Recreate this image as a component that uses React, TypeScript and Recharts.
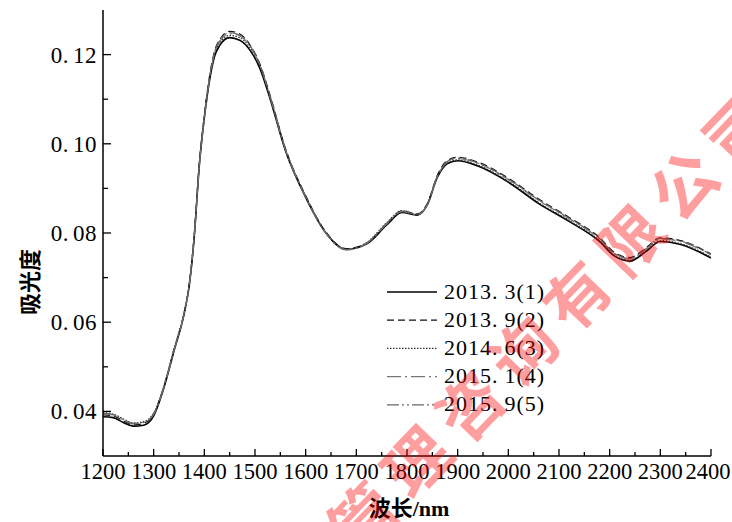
import React from 'react';
import { LineChart, Line, XAxis, YAxis } from 'recharts';

// Wavelength (nm)
const WAVELENGTHS = [
  1200, 1220, 1240, 1260, 1280, 1300, 1320, 1340, 1360, 1370, 1380, 1390, 1400, 1410, 1420,
  1430, 1450, 1470, 1490, 1510, 1530, 1560, 1600, 1640, 1680, 1720, 1760, 1790, 1820, 1840,
  1860, 1880, 1900, 1940, 2000, 2060, 2120, 2180, 2210, 2240, 2270, 2300, 2340, 2400,
];

// Absorbance, series 1..5
const S1 = [
  0.0388, 0.0386, 0.0375, 0.0367, 0.0369, 0.0390, 0.0452, 0.0535, 0.0618, 0.0680, 0.0790, 0.0950, 0.1058, 0.1140, 0.1195,
  0.1220, 0.1238, 0.1232, 0.1210, 0.1168, 0.1100, 0.0985, 0.0880, 0.0800, 0.0763, 0.0775, 0.0818, 0.0846, 0.0840, 0.0863,
  0.0925, 0.0956, 0.0962, 0.0950, 0.0914, 0.0866, 0.0826, 0.0781, 0.0748, 0.0737, 0.0757, 0.0781, 0.0774, 0.0744,
];
const S2 = [
  0.0392, 0.0390, 0.0379, 0.0370, 0.0373, 0.0394, 0.0455, 0.0538, 0.0620, 0.0683, 0.0795, 0.0955, 0.1065, 0.1150, 0.1207,
  0.1233, 0.1252, 0.1246, 0.1222, 0.1178, 0.1108, 0.0990, 0.0884, 0.0802, 0.0765, 0.0777, 0.0821, 0.0850, 0.0843, 0.0866,
  0.0930, 0.0963, 0.0970, 0.0959, 0.0923, 0.0876, 0.0835, 0.0790, 0.0756, 0.0745, 0.0765, 0.0789, 0.0783, 0.0753,
];
const S3 = [
  0.0397, 0.0394, 0.0383, 0.0374, 0.0377, 0.0396, 0.0457, 0.0540, 0.0622, 0.0684, 0.0793, 0.0952, 0.1060, 0.1143, 0.1199,
  0.1225, 0.1243, 0.1238, 0.1216, 0.1173, 0.1105, 0.0988, 0.0882, 0.0801, 0.0764, 0.0778, 0.0823, 0.0850, 0.0842, 0.0864,
  0.0926, 0.0957, 0.0964, 0.0952, 0.0916, 0.0868, 0.0828, 0.0783, 0.0750, 0.0739, 0.0759, 0.0783, 0.0776, 0.0746,
];
const S4 = [
  0.0394, 0.0392, 0.0381, 0.0372, 0.0375, 0.0393, 0.0453, 0.0536, 0.0619, 0.0681, 0.0790, 0.0949, 0.1058, 0.1144, 0.1202,
  0.1229, 0.1247, 0.1242, 0.1219, 0.1175, 0.1104, 0.0987, 0.0881, 0.0799, 0.0762, 0.0776, 0.0820, 0.0848, 0.0841, 0.0863,
  0.0927, 0.0960, 0.0967, 0.0956, 0.0920, 0.0873, 0.0832, 0.0787, 0.0753, 0.0742, 0.0762, 0.0787, 0.0781, 0.0751,
];
const S5 = [
  0.0396, 0.0393, 0.0382, 0.0373, 0.0376, 0.0395, 0.0455, 0.0537, 0.0620, 0.0682, 0.0792, 0.0951, 0.1061, 0.1147, 0.1204,
  0.1231, 0.1249, 0.1244, 0.1221, 0.1177, 0.1106, 0.0989, 0.0883, 0.0800, 0.0763, 0.0777, 0.0822, 0.0849, 0.0842, 0.0864,
  0.0928, 0.0961, 0.0968, 0.0957, 0.0921, 0.0874, 0.0833, 0.0788, 0.0754, 0.0743, 0.0763, 0.0788, 0.0782, 0.0752,
];

const SERIES_NAMES = ['2013.3(1)', '2013.9(2)', '2014.6(3)', '2015.1(4)', '2015.9(5)'];

const X_TICKS = [
  1200, 1250, 1300, 1350, 1400, 1450, 1500, 1550, 1600, 1650, 1700, 1750, 1800, 1850, 1900, 1950,
  2000, 2050, 2100, 2150, 2200, 2250, 2300, 2350, 2400,
];
const Y_TICKS = [0.04, 0.05, 0.06, 0.07, 0.08, 0.09, 0.1, 0.11, 0.12];

const X_TITLE = '波长/nm';
const Y_TITLE = '吸光度';
const WATERMARK = '管理咨询有限公司';

const SERIES = [
  { key: 's1', values: S1, stroke: '#000000', width: 1.6, dash: undefined as string | undefined },
  { key: 's2', values: S2, stroke: '#111111', width: 1.2, dash: '7 4' },
  { key: 's3', values: S3, stroke: '#333333', width: 1.3, dash: '1.5 1.5' },
  { key: 's4', values: S4, stroke: '#777777', width: 1.2, dash: '14 4 2 4' },
  { key: 's5', values: S5, stroke: '#666666', width: 1.2, dash: '12 3 2 3 2 3' },
];

const data = WAVELENGTHS.map((wl, i) => {
  const row: Record<string, number> = { wl };
  SERIES.forEach((s) => {
    row[s.key] = s.values[i];
  });
  return row;
});

const SERIF = "'Liberation Serif', 'Times New Roman', serif";

const XTick = (props: any) => {
  const { x, y, payload } = props;
  const v = payload.value as number;
  const major = v % 100 === 0;
  const tx = Math.min(x, 708);
  return (
    <g>
      <line x1={x} x2={x} y1={y} y2={y - (major ? 7 : 4)} stroke="#000" strokeWidth={1.3} />
      {major && (
        <text x={tx} y={y + 23} textAnchor="middle" fontFamily={SERIF} fontSize={22.5} fill="#000">
          {v}
        </text>
      )}
    </g>
  );
};

const YTick = (props: any) => {
  const { x, y, payload } = props;
  const v = payload.value as number;
  const major = Math.round(v * 100) % 2 === 0;
  const [a, b] = v.toFixed(2).split('.');
  return (
    <g>
      <line x1={x} x2={x + (major ? 8 : 5)} y1={y} y2={y} stroke="#000" strokeWidth={1.3} />
      {major && (
        <text x={x - 6} y={y + 8} textAnchor="end" fontFamily={SERIF} fontSize={23} fill="#000" letterSpacing={0.5}>
          <tspan>{a}.</tspan>
          <tspan dx={4}>{b}</tspan>
        </text>
      )}
    </g>
  );
};

export default function App() {
  return (
    <div style={{ position: 'absolute', left: 0, top: 0, width: 732, height: 522, background: '#fff' }}>
      <LineChart width={732} height={522} data={data} margin={{ top: 10, right: 21, bottom: 0, left: 0 }}>
        <XAxis
          dataKey="wl"
          type="number"
          domain={[1200, 2400]}
          ticks={X_TICKS}
          interval={0}
          height={66}
          tickSize={0}
          tickMargin={0}
          tick={<XTick />}
          tickLine={false}
          axisLine={{ stroke: '#000', strokeWidth: 1.5 }}
          allowDataOverflow
        />
        <XAxis
          xAxisId="top"
          orientation="top"
          type="number"
          domain={[1200, 2400]}
          height={0}
          tick={false}
          tickLine={false}
          axisLine={{ stroke: '#000', strokeWidth: 1.5 }}
        />
        <YAxis
          type="number"
          domain={[0.03, 0.13]}
          ticks={Y_TICKS}
          interval={0}
          width={103}
          tickSize={0}
          tickMargin={0}
          tick={<YTick />}
          tickLine={false}
          axisLine={{ stroke: '#000', strokeWidth: 1.5 }}
          allowDataOverflow
        />
        <YAxis
          yAxisId="right"
          orientation="right"
          type="number"
          domain={[0.03, 0.13]}
          width={0}
          tick={false}
          tickLine={false}
          axisLine={{ stroke: '#000', strokeWidth: 1.5 }}
        />
        {SERIES.map((s, i) => (
          <Line
            key={s.key}
            type="monotone"
            dataKey={s.key}
            name={SERIES_NAMES[i]}
            stroke={s.stroke}
            strokeWidth={s.width}
            strokeDasharray={s.dash}
            dot={false}
            activeDot={false}
            isAnimationActive={false}
          />
        ))}
      </LineChart>
      <svg
        width={732}
        height={522}
        style={{ position: 'absolute', left: 0, top: 0, pointerEvents: 'none' }}
      >
        {SERIES.map((s, i) => {
          const cy = 291 + i * 28.2;
          const [a, b] = SERIES_NAMES[i].split('.');
          return (
            <g key={s.key}>
              <line x1={387} x2={437} y1={cy + 1} y2={cy + 1} stroke={s.stroke} strokeWidth={s.width} strokeDasharray={s.dash} />
              <text x={444} y={cy + 7.5} fontFamily={SERIF} fontSize={22} fill="#000" letterSpacing={1}>
                <tspan>{a}.</tspan>
                <tspan dx={6}>{b}</tspan>
              </text>
            </g>
          );
        })}
        <text
          x={409}
          y={516}
          textAnchor="middle"
          fontFamily="'Liberation Serif', 'Noto Sans CJK SC', serif"
          fontWeight="bold"
          fontSize={22}
          fill="#000"
        >
          {X_TITLE}
        </text>
        <text
          x={28}
          y={282}
          transform="rotate(-90 28 282)"
          textAnchor="middle"
          dominantBaseline="central"
          fontFamily="'Noto Sans CJK SC', sans-serif"
          fontWeight="bold"
          fontSize={22}
          fill="#000"
        >
          {Y_TITLE}
        </text>
        <text
          x={552}
          y={316}
          transform="rotate(-46 552 316)"
          textAnchor="middle"
          dominantBaseline="central"
          fontFamily="'Noto Sans CJK SC', sans-serif"
          fontWeight="bold"
          fontSize={64}
          letterSpacing={13}
          fill="#ff0000"
          fillOpacity={0.38}
        >
          {WATERMARK}
        </text>
      </svg>
    </div>
  );
}
